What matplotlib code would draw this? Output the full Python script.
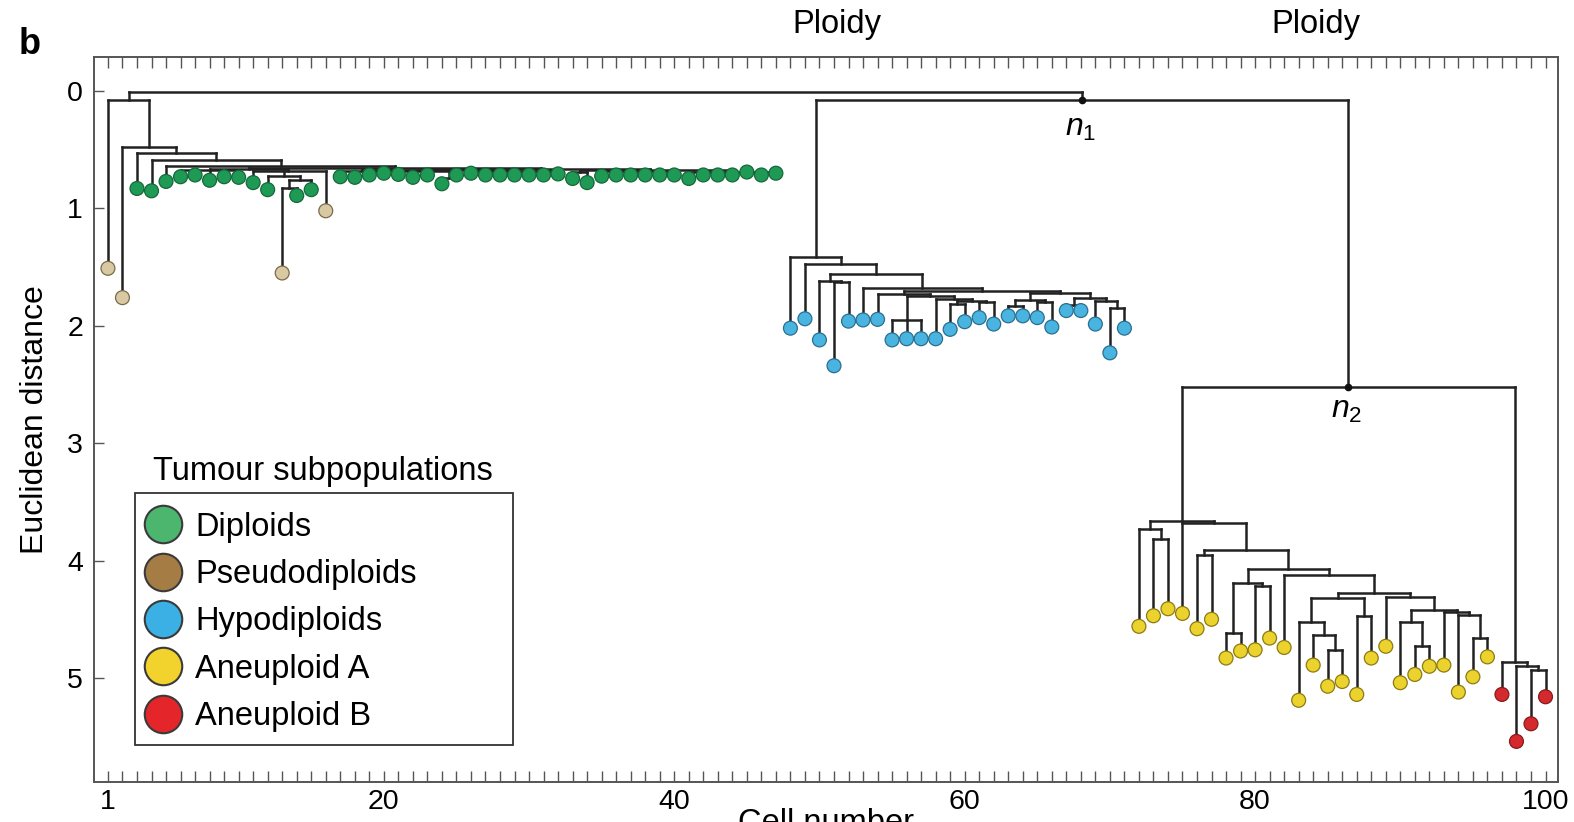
import matplotlib
matplotlib.use("Agg")
import matplotlib.pyplot as plt
from matplotlib.lines import Line2D
from matplotlib.collections import LineCollection
from matplotlib.patches import Rectangle

plt.rcParams['font.family'] = ['Liberation Sans', 'DejaVu Sans']
plt.rcParams['mathtext.fontset'] = 'custom'
plt.rcParams['mathtext.it'] = 'Liberation Sans:italic'
plt.rcParams['mathtext.rm'] = 'Liberation Sans'

# depth (Euclidean distance from root) of every cell, cells 1..100
leaf_depth = [
    1.51, 1.76, 0.83, 0.85, 0.77, 0.73, 0.715, 0.76, 0.73, 0.735,       # 1-10
    0.78, 0.84, 1.55, 0.89, 0.84, 1.02, 0.73, 0.735, 0.715, 0.70,       # 11-20
    0.71, 0.735, 0.715, 0.79, 0.715, 0.70, 0.715, 0.715, 0.715, 0.715,  # 21-30
    0.715, 0.706, 0.745, 0.78, 0.725, 0.715, 0.715, 0.715, 0.715, 0.715,  # 31-40
    0.745, 0.715, 0.715, 0.715, 0.69, 0.715, 0.70, 2.02, 1.94, 2.12,    # 41-50
    2.34, 1.96, 1.95, 1.945, 2.12, 2.11, 2.11, 2.11, 2.03, 1.965,       # 51-60
    1.93, 1.985, 1.915, 1.915, 1.93, 2.01, 1.87, 1.87, 1.985, 2.23,     # 61-70
    2.02, 4.56, 4.47, 4.41, 4.45, 4.58, 4.50, 4.83, 4.77, 4.76,         # 71-80
    4.66, 4.74, 5.19, 4.89, 5.07, 5.03, 5.14, 4.83, 4.73, 5.04,         # 81-90
    4.97, 4.90, 4.89, 5.12, 4.99, 4.82, 5.14, 5.54, 5.39, 5.16,         # 91-100
]

# subpopulation of every cell: D/P/H/A/B
cell_group = ("PP" "DDDDDDDDDD" "P" "DD" "P"
              "DDDDDDDDDD" "DDDDDDDDDD" "DDDDDDDDDD" "D"
              "HHHHHHHHHH" "HHHHHHHHHH" "HHHH"
              "AAAAAAAAAA" "AAAAAAAAAA" "AAAAA"
              "BBBB")

group_names = ["Diploids", "Pseudodiploids", "Hypodiploids", "Aneuploid A", "Aneuploid B"]
group_codes = ["D", "P", "H", "A", "B"]
marker_face = ["#1f9a55", "#d8c9a3", "#48b4df", "#ecd22c", "#d42a2e"]
marker_edge = ["#15683a", "#7a6a4a", "#2b6f90", "#8c7b12", "#871a1c"]
legend_face = ["#4cb56e", "#a67c45", "#3bb0e5", "#f2d22c", "#e4262b"]

# tree topology: [node depth, child, child, ...]; ints are cell numbers
diploid_core = [0.655,
                [0.668, [0.675, 6, 7, 8, 9, 10],
                 [0.68, 11, [0.72, 12, [0.76, [0.83, 13, 14], 15]], 16]],
                [0.665,
                 [0.672, [0.68, 17, 18, 19, 20], [0.685, 21, 22, 23, [0.74, 24, 25]],
                  [0.685, 26, 27, 28, 29, 30, 31, 32]],
                 [0.675, [0.69, 33, 34], [0.685, 35, 36, 37, 38, 39, 40],
                  [0.69, 41, 42, 43, 44, 45, 46, 47]]]]
diploid_clade = [0.08, 1, [0.477, 2, [0.53, 3, [0.59, 4, [0.64, 5, diploid_core]]]]]

hypo_right = [1.72, [1.78, [1.83, 63, 64], [1.80, 65, 66]],
              [1.76, [1.82, 67, 68], [1.79, 69, [1.85, 70, 71]]]]
hypo_mid = [1.73, 54, [1.75, [1.95, 55, 56, 57],
                       [1.77, 58, [1.79, [1.81, 59, 60], [1.80, 61, 62]]]]]
hypo_clade = [1.41, 48, [1.47, 49, [1.56, [1.62, 50, [1.63, 51, 52]],
                                    [1.68, 53, [1.70, hypo_mid, hypo_right]]]]]

aneu_a_tail = [4.28, [4.32, [4.52, 83, [4.63, 84, [4.76, 85, 86]]], [4.47, 87, 88]],
               [4.31, 89, [4.42, [4.52, 90, [4.73, 91, 92]],
                           [4.44, 93, [4.46, 94, [4.66, 95, 96]]]]]]
aneu_a_clade = [3.66, [3.73, 72, [3.82, 73, 74]],
                [3.68, 75, [3.91, [3.95, 76, 77],
                            [4.07, [4.19, [4.62, 78, 79], [4.22, 80, 81]],
                             [4.12, 82, aneu_a_tail]]]]]
aneu_b_clade = [4.86, 97, [4.90, 98, [4.93, 99, 100]]]

node_n2 = [2.52, aneu_a_clade, aneu_b_clade]
node_n1 = [0.077, hypo_clade, node_n2]
root = [0.01, diploid_clade, node_n1]

W, H = 1574, 822
fig = plt.figure(figsize=(W / 100, H / 100), dpi=100)
ax = fig.add_axes([94 / W, 1 - 782 / H, 1464 / W, 725 / H])

segs = []
pos = {}


def draw(node):
    if isinstance(node, int):
        return node, leaf_depth[node - 1]
    depth = node[0]
    kids = [draw(c) for c in node[1:]]
    xs = [k[0] for k in kids]
    segs.append([(min(xs), depth), (max(xs), depth)])
    for kx, ky in kids:
        segs.append([(kx, depth), (kx, ky)])
    x = sum(xs) / len(xs)
    pos[id(node)] = (x, depth)
    return x, depth


draw(root)
ax.add_collection(LineCollection(segs, colors="#222222", linewidths=1.8,
                                 capstyle="projecting", zorder=2))

cells = list(range(1, 101))
idx = [group_codes.index(g) for g in cell_group]
ax.scatter(cells, leaf_depth, s=100, c=[marker_face[i] for i in idx],
           edgecolors=[marker_edge[i] for i in idx], linewidths=0.9, zorder=3)

for node, label, off in [(node_n1, r"$n_1$", -20), (node_n2, r"$n_2$", -17)]:
    x, d = pos[id(node)]
    ax.plot(x, d, "o", ms=4.5, color="#111111", zorder=4)
    ax.annotate(label, (x, d), xytext=(-1, off), textcoords="offset points",
                ha="center", va="center", fontsize=23)

ax.set_xlim(0.04, 100.86)
ax.set_ylim(5.886, -0.29)
ax.set_xticks([1, 20, 40, 60, 80, 100])
ax.set_xticks(cells, minor=True)
ax.set_yticks([0, 1, 2, 3, 4, 5])
ax.tick_params(axis="x", which="both", direction="in", top=True, bottom=True,
               length=8, width=1, color="#555555", labelsize=20.5, pad=5)
ax.tick_params(axis="y", direction="in", left=True, right=False,
               length=7, width=1, color="#555555", labelsize=20.5, pad=8)
for sp in ax.spines.values():
    sp.set_color("#555555")
    sp.set_linewidth(1.4)
ax.set_ylabel("Euclidean distance", fontsize=23, labelpad=12)

# legend with title above a square frame
ax.add_patch(Rectangle((0.028, 0.051), 0.258, 0.348, transform=ax.transAxes,
                       fill=False, edgecolor="#333333", linewidth=1.3, zorder=5))
handles = [Line2D([], [], marker="o", ls="", ms=27, mfc=c, mec="#3a3a3a", mew=1.5)
           for c in legend_face]
ax.legend(handles, group_names, loc="upper left", bbox_to_anchor=(0.028, 0.389),
          frameon=False, fontsize=23.5, borderpad=0.36, borderaxespad=0,
          handlelength=1.0, handletextpad=0.48, labelspacing=0.5)
ax.text(0.156, 0.428, "Tumour subpopulations", transform=ax.transAxes,
        ha="center", va="center", fontsize=23.5)

fig.text(837 / W, 1 - 25 / H, "Ploidy", ha="center", va="center", fontsize=23.5)
fig.text(1316 / W, 1 - 25 / H, "Ploidy", ha="center", va="center", fontsize=23.5)
fig.text(30 / W, 1 - 45 / H, "b", ha="center", va="center", fontsize=26, fontweight="bold")
# axis title sits partly below the bottom edge, as in the source panel
fig.text(826 / W, 1 - 808 / H, "Cell number", ha="center", va="top", fontsize=23.5)

fig.savefig("out.png", dpi=100)
